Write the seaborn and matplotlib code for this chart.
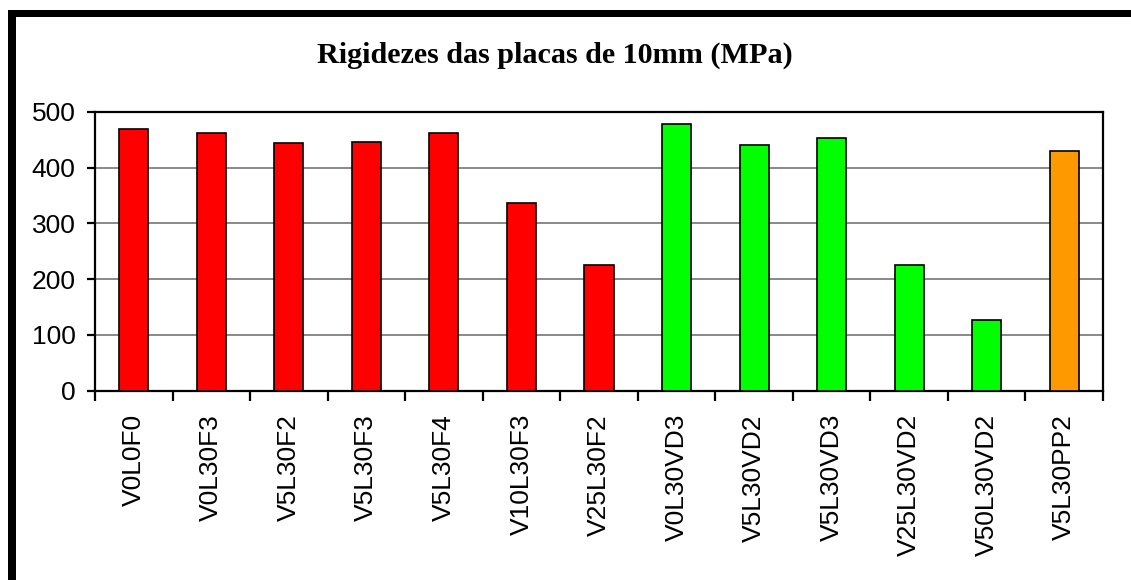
import matplotlib
matplotlib.use('Agg')
import matplotlib.pyplot as plt
import matplotlib.patches as mpatches
import numpy as np
import pandas as pd
import seaborn as sns

# dados
amostras = ['V0L0F0', 'V0L30F3', 'V5L30F2', 'V5L30F3', 'V5L30F4', 'V10L30F3', 'V25L30F2',
            'V0L30VD3', 'V5L30VD2', 'V5L30VD3', 'V25L30VD2', 'V50L30VD2', 'V5L30PP2']
rigidez = [470, 463, 444, 446, 462, 336, 225, 479, 440, 453, 226, 126, 430]
cores = ['#FF0000'] * 7 + ['#00FF00'] * 5 + ['#FF9900']
y_ticks = [0, 100, 200, 300, 400, 500]

df = pd.DataFrame({'amostra': amostras, 'rigidez': rigidez})

sns.set_style('white')
plt.rcParams['font.family'] = ['Liberation Sans', 'DejaVu Sans']
plt.rcParams['text.color'] = 'black'
plt.rcParams['xtick.color'] = 'black'
plt.rcParams['ytick.color'] = 'black'

fig = plt.figure(figsize=(11.31, 5.8), dpi=100)
ax = fig.add_axes([95 / 1131, 1 - 390.5 / 580, (1103 - 95) / 1131, (390.5 - 112) / 580])

sns.barplot(data=df, x='amostra', y='rigidez', hue='amostra', palette=cores, legend=False,
            saturation=1, width=0.375, edgecolor='black', linewidth=1.2, ax=ax, zorder=3)

ax.set_ylim(0, 500)
ax.set_xlim(-0.5, len(amostras) - 0.5)
ax.set_yticks(y_ticks)
ax.yaxis.grid(True, color='#808080', linewidth=1.3, zorder=0)
ax.set_axisbelow(True)
ax.set_xlabel('')
ax.set_ylabel('')

for s in ax.spines.values():
    s.set_visible(True)
    s.set_color('black')
    s.set_linewidth(1.6)

# ticks do eixo x nas divisões entre categorias
ax.set_xticks(np.arange(-0.5, len(amostras)), minor=True)
ax.tick_params(axis='x', which='minor', length=7, width=1.6, color='black', direction='out', bottom=True)
ax.tick_params(axis='x', which='major', length=0, pad=17, labelsize=19, labelrotation=90, labelcolor='black')
ax.tick_params(axis='y', length=6, width=1.6, color='black', direction='out', left=True, pad=8,
               labelsize=19, labelcolor='black')
for lbl in ax.get_xticklabels():
    lbl.set_va('top')

fig.text(555 / 1131, 1 - 55 / 580, 'Rigidezes das placas de 10mm (MPa)', ha='center', va='center',
         fontsize=21.7, fontweight='bold', color='black', family=['Liberation Serif', 'DejaVu Serif'])

# moldura preta (topo e esquerda)
W, H = 1131, 580
fig.add_artist(mpatches.Rectangle((8 / W, 1 - 17 / H), 1, 7 / H, transform=fig.transFigure,
                                  color='black', lw=0))
fig.add_artist(mpatches.Rectangle((8 / W, 0), 8 / W, 1 - 10 / H, transform=fig.transFigure,
                                  color='black', lw=0))

fig.savefig('out.png', dpi=100)
